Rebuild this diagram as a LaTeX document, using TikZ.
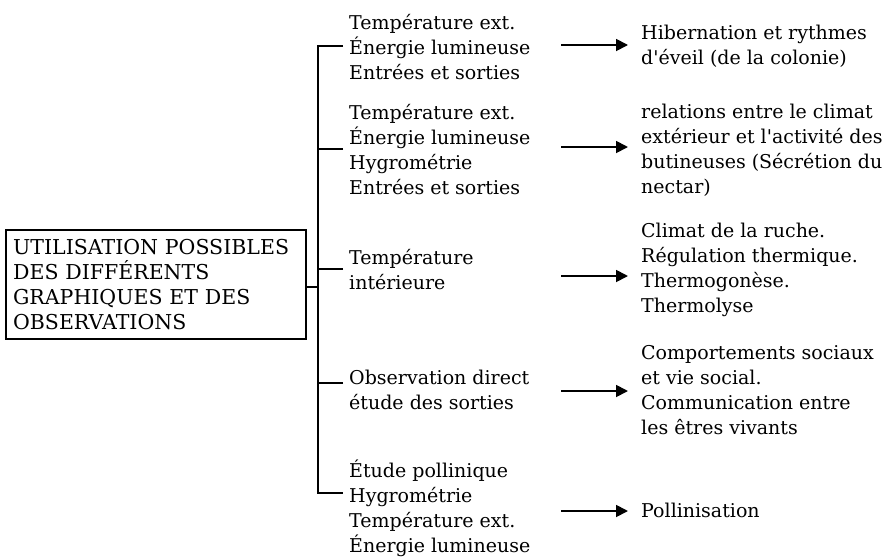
\documentclass[tikz,border=0pt]{standalone}
\usepackage{fontspec}
\setmainfont{DejaVu Serif}[Ligatures=TeXOff]
\usetikzlibrary{arrows.meta}
\begin{document}
\begin{tikzpicture}[x=1pt,y=-1pt,
  txt/.style={font=\fontsize{19}{25}\selectfont, align=left, inner sep=0pt, anchor=west},
  boxnode/.style={draw, line width=2.2pt, font=\fontsize{20.5}{25}\selectfont, align=left,
    text width=286pt, inner xsep=7pt, inner ysep=0pt, minimum height=109pt, anchor=north west},
  conn/.style={line width=1.7pt},
  arr/.style={line width=1.8pt, -{Triangle[length=12pt,width=12pt]}}
]
\useasboundingbox (0,0) rectangle (886,557);

\node[boxnode] (box) at (5,229) {UTILISATION POSSIBLES\\DES DIFFÉRENTS\\GRAPHIQUES ET DES\\OBSERVATIONS};

% left texts
\node[txt] (l1) at (349,47) {Température ext.\\Énergie lumineuse\\Entrées et sorties};
\node[txt] (l2) at (349,150) {Température ext.\\Énergie lumineuse\\Hygrométrie\\Entrées et sorties};
\node[txt] (l3) at (349,270) {Température\\intérieure};
\node[txt] (l4) at (349,390) {Observation direct\\étude des sorties};
\node[txt] (l5) at (349,508) {Étude pollinique\\Hygrométrie\\Température ext.\\Énergie lumineuse};

% right texts
\node[txt] (r1) at (641,46) {Hibernation et rythmes\\d'éveil (de la colonie)};
\node[txt] (r2) at (641,150) {relations entre le climat\\extérieur et l'activité des\\butineuses (Sécrétion du\\nectar)};
\node[txt] (r3) at (641,270) {Climat de la ruche.\\Régulation thermique.\\Thermogonèse.\\Thermolyse};
\node[txt] (r4) at (641,390) {Comportements sociaux\\et vie social.\\Communication entre\\les êtres vivants};
\node[txt] (r5) at (641,510) {Pollinisation};

% tree
\coordinate (j) at (318,287);
\coordinate (b1) at (343,46);
\coordinate (b2) at (343,149);
\coordinate (b3) at (343,269);
\coordinate (b4) at (343,383);
\coordinate (b5) at (343,493);
\draw[conn] (box.east |- j) -- (j);
\draw[conn] (b1) -- (b1 -| j) -- (b5 -| j) -- (b5);
\draw[conn] (b2) -- (b2 -| j);
\draw[conn] (b3) -- (b3 -| j);
\draw[conn] (b4) -- (b4 -| j);

% arrows
\coordinate (s1) at (561,45);
\coordinate (s2) at (561,147);
\coordinate (s3) at (561,276);
\coordinate (s4) at (561,391);
\coordinate (s5) at (561,511);
\foreach \i in {1,...,5}{
  \draw[arr, shorten >=13pt] (s\i) -- (s\i -| r\i.west);
}
\end{tikzpicture}
\end{document}
